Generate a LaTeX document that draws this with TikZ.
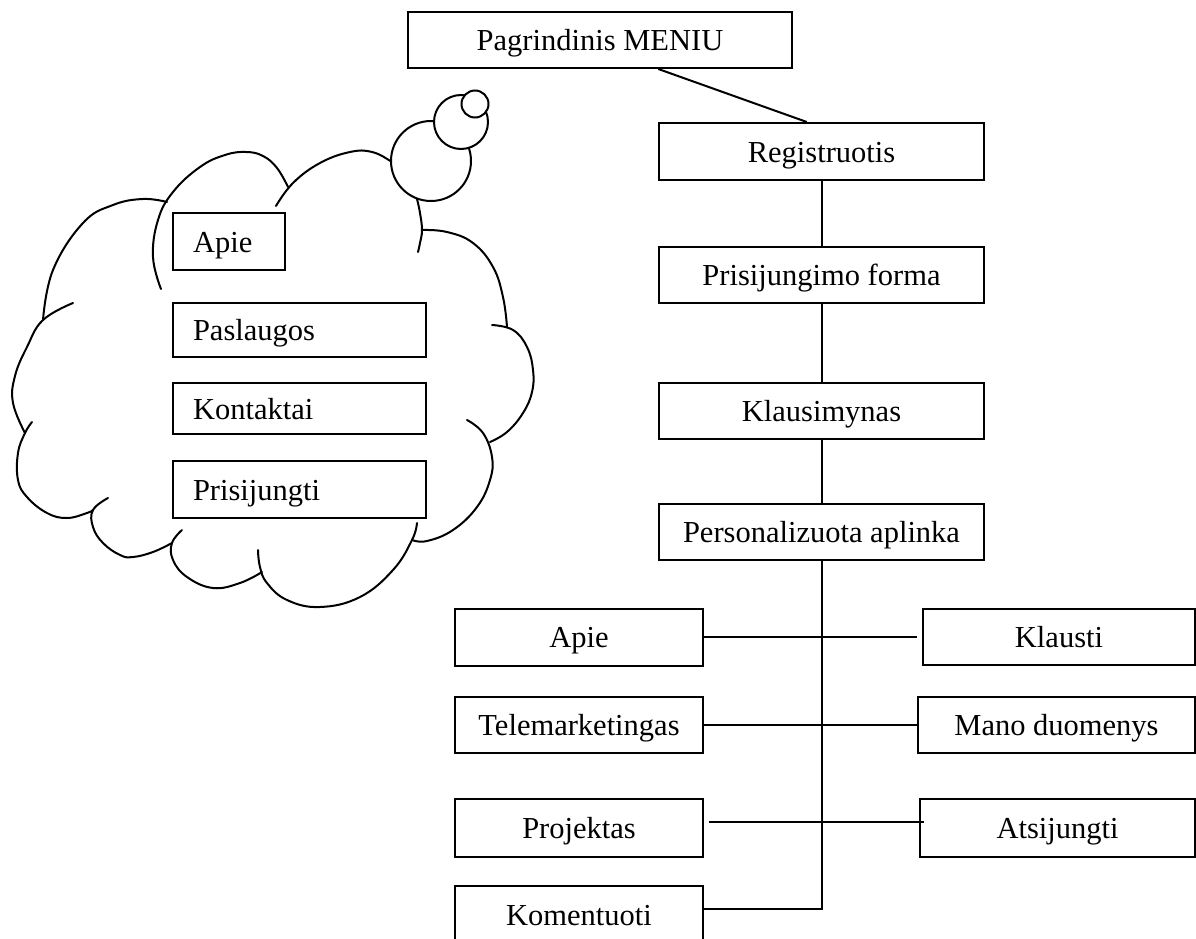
\documentclass[tikz,border=0pt]{standalone}
\usepackage{fontspec}
\setmainfont{Liberation Serif}
\usetikzlibrary{calc}
\begin{document}
\begin{tikzpicture}[x=1pt,y=-1pt,
  every node/.style={font=\fontsize{30.5}{36}\selectfont, text height=24pt, text depth=3pt},
  menubox/.style={draw, line width=2pt, inner sep=0pt, fill=white},
  cloudbox/.style={menubox, align=left, inner xsep=20pt, inner ysep=0pt},
  link/.style={line width=2pt},
  cloudline/.style={line width=2pt, line cap=round},
  bubble/.style={draw, line width=2pt, fill=white}]
\useasboundingbox (0,0) rectangle (1196,939);
\clip (0,0) rectangle (1196,939);

% ---- thought cloud outline (separate scalloped arcs) ----
\draw[cloudline] plot[smooth, tension=0.7] coordinates {(161,289) (153,257) (158,220) (173,192) (200,167) (225,155) (246,152) (263,156) (277,168) (288,187)};
\draw[cloudline] plot[smooth, tension=0.7] coordinates {(276,206) (293,183) (320,163) (350,152) (372,152) (392,162) (405,172)};
\draw[cloudline] plot[smooth, tension=0.7] coordinates {(414,188) (417,199) (420,213) (422,230) (420,243) (418,252)};
\draw[cloudline] plot[smooth, tension=0.7] coordinates {(422,230) (447,232) (473,243) (493,267) (503,297) (507,327)};
\draw[cloudline] plot[smooth, tension=0.7] coordinates {(492,325) (513,330) (527,347) (533,370) (532,392) (523,413) (507,432) (490,442)};
\draw[cloudline] plot[smooth, tension=0.7] coordinates {(467,420) (483,433) (492,457) (490,480) (477,507) (453,530) (427,541) (412,540)};
\draw[cloudline] plot[smooth, tension=0.7] coordinates {(417,523) (412,540) (393,570) (360,597) (320,607) (287,600) (267,583) (260,567) (258,550)};
\draw[cloudline] plot[smooth, tension=0.7] coordinates {(182,530) (172,543) (173,560) (187,577) (213,588) (240,583) (262,572)};
\draw[cloudline] plot[smooth, tension=0.7] coordinates {(108,498) (93,510) (93,527) (103,543) (120,555) (133,557) (153,552) (172,543)};
\draw[cloudline] plot[smooth, tension=0.7] coordinates {(32,422) (25,433) (18,453) (18,480) (27,497) (47,513) (67,518) (87,513) (93,510)};
\draw[cloudline] plot[smooth, tension=0.7] coordinates {(73,303) (43,320) (27,347) (15,376) (13,403) (25,433)};
\draw[cloudline] plot[smooth, tension=0.7] coordinates {(43,320) (53,270) (83,223) (113,205) (143,199) (167,202)};

% ---- thought bubbles ----
\draw[bubble] (431,161) circle[radius=40];
\draw[bubble] (461,122) circle[radius=27];
\draw[bubble] (475,104) circle[radius=13.5];

% ---- items inside the cloud ----
\node[cloudbox, text width=72pt,  minimum height=57pt] (capie) at (229,241.5) {Apie};
\node[cloudbox, text width=213pt, minimum height=54pt] (cpasl) at (299.5,330) {Paslaugos};
\node[cloudbox, text width=213pt, minimum height=51pt] (ckont) at (299.5,408.5) {Kontaktai};
\node[cloudbox, text width=213pt, minimum height=57pt] (cpris) at (299.5,489.5) {Prisijungti};

% ---- main flow ----
\node[menubox, minimum width=384pt, minimum height=56pt] (menu) at (600,40) {Pagrindinis MENIU};
\node[menubox, minimum width=325pt, minimum height=57pt] (reg)  at (821.5,151.5) {Registruotis};
\node[menubox, minimum width=325pt, minimum height=56pt] (form) at (821.5,275) {Prisijungimo forma};
\node[menubox, minimum width=325pt, minimum height=56pt] (quiz) at (821.5,411) {Klausimynas};
\node[menubox, minimum width=325pt, minimum height=56pt] (pers) at (821.5,532) {Personalizuota aplinka};

% ---- personal area items ----
\node[menubox, minimum width=248pt, minimum height=57pt] (apie)  at (579,637) {Apie};
\node[menubox, minimum width=248pt, minimum height=56pt] (tele)  at (579,725) {Telemarketingas};
\node[menubox, minimum width=248pt, minimum height=58pt] (proj)  at (579,828) {Projektas};
\node[menubox, minimum width=248pt, minimum height=57pt] (kom)   at (579,914.5) {Komentuoti};
\node[menubox, minimum width=272pt, minimum height=56pt] (klau)  at (1059,637) {Klausti};
\node[menubox, minimum width=277pt, minimum height=56pt] (mano)  at (1056.5,725) {Mano duomenys};
\node[menubox, minimum width=275pt, minimum height=58pt] (atsij) at (1057.5,828) {Atsijungti};

% ---- connectors ----
\draw[link] ($(menu.south west)!0.651!(menu.south east)$) -- ($(reg.north west)!0.455!(reg.north east)$);
\draw[link] (reg.south) -- (form.north);
\draw[link] (form.south) -- (quiz.north);
\draw[link] (quiz.south) -- (pers.north);

\coordinate (komin) at ($(kom.north east)!0.4!(kom.south east)$);
\draw[link] (pers.south) -- (pers.south |- komin) -- (komin);
\draw[link, shorten >=5pt] (apie.east) -- (klau.west);
\draw[link] (tele.east) -- (mano.west);
\draw[link, shorten <=5pt, shorten >=-5pt] ($(proj.north east)!0.4!(proj.south east)$) -- ($(atsij.north west)!0.4!(atsij.south west)$);
\end{tikzpicture}
\end{document}
